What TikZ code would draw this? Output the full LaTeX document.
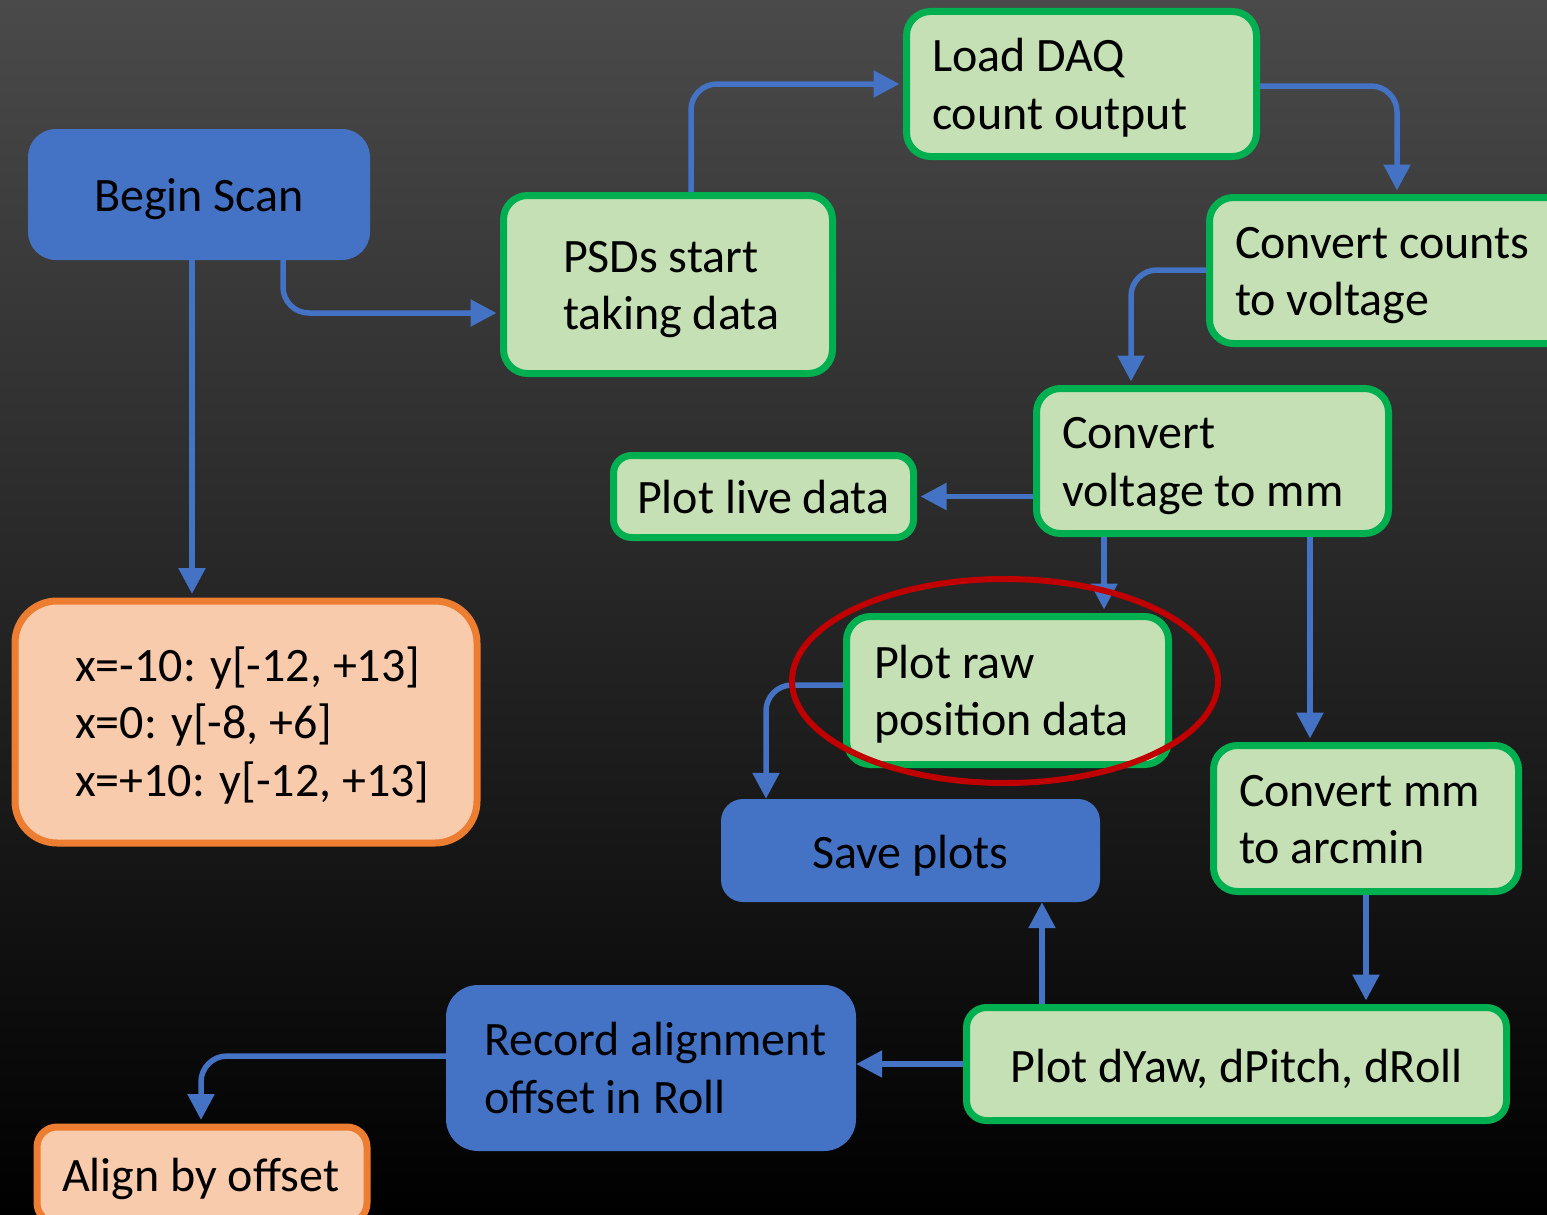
\documentclass[tikz,border=0pt]{standalone}
\usepackage{fontspec}
\setmainfont{Carlito}
\usetikzlibrary{arrows.meta,calc,shapes.geometric}
\definecolor{bgtop}{RGB}{74,74,74}
\definecolor{bgbot}{RGB}{0,0,0}
\definecolor{fblue}{RGB}{68,114,196}
\definecolor{fgreen}{RGB}{197,224,180}
\definecolor{lgreen}{RGB}{0,176,80}
\definecolor{forange}{RGB}{248,203,173}
\definecolor{lorange}{RGB}{237,125,49}
\definecolor{hred}{RGB}{192,0,0}
\newcommand{\lowr}[1]{\raisebox{-5pt}[\height][\depth]{#1}}
\newcommand{\lbox}[2]{\lowr{\makebox[#1][l]{\begin{tabular}{@{}l@{}}#2\end{tabular}}}}
\tikzset{
  txt/.style={font=\fontsize{48}{57.5}\selectfont, text=black, inner ysep=0pt},
  bluebox/.style={txt, rectangle, fill=fblue, draw=none, rounded corners=28pt},
  greenbox/.style={txt, rectangle, fill=fgreen, draw=lgreen, line width=7pt, rounded corners=24pt},
  orangebox/.style={txt, rectangle, fill=forange, draw=lorange, line width=7pt, rounded corners=30pt},
  arr/.style={draw=fblue, line width=5.5pt, rounded corners=26pt, -{Triangle[length=26pt,width=26pt]}},
}
\begin{document}
\begin{tikzpicture}[x=1pt,y=-1pt]
\shade[top color=bgtop, bottom color=bgbot] (0,0) rectangle (1547,1215);
\useasboundingbox (0,0) rectangle (1547,1215);

% nodes
\node[bluebox, minimum width=342pt, minimum height=131pt] (begin) at (199,194.5) {\lowr{Begin Scan}};
\node[greenbox, minimum height=178pt, inner xsep=59.5pt] (psd) at (668,284.5) {\lbox{210pt}{PSDs start\\taking data}};
\node[greenbox, minimum height=145pt, inner xsep=25.5pt] (load) at (1081.5,84) {\lbox{299pt}{Load DAQ\\count output}};
\node[greenbox, minimum height=146pt, inner xsep=25.5pt] (counts) at (1390.5,270.5) {\lbox{311pt}{Convert counts\\to voltage}};
\node[greenbox, minimum height=145pt, inner xsep=25.5pt] (volt) at (1212.5,461) {\lbox{301pt}{Convert\\voltage to mm}};
\node[greenbox, minimum height=82pt, inner xsep=23.5pt, rounded corners=18pt] (live) at (763.5,496.5) {\lbox{253pt}{Plot live data}};
\node[greenbox, minimum height=148pt, inner xsep=27.5pt] (raw) at (1007.5,690.5) {\lbox{267pt}{Plot raw\\position data}};
\node[bluebox, minimum width=379pt, minimum height=103pt, rounded corners=22pt] (save) at (910.5,850.5) {\lowr{Save plots}};
\node[greenbox, minimum height=146pt, inner xsep=25.5pt] (arcmin) at (1366,818.5) {\lbox{254pt}{Convert mm\\to arcmin}};
\node[greenbox, minimum width=540pt, minimum height=113pt, rounded corners=20pt] (dyaw) at (1236.5,1064) {\lowr{Plot dYaw, dPitch, dRoll}};
\node[bluebox, minimum height=166pt, inner xsep=38pt, rounded corners=32pt] (record) at (651,1068) {\lbox{334pt}{Record alignment\\offset in Roll}};
\node[orangebox, minimum height=96pt, inner xsep=25pt, rounded corners=20pt] (align) at (202,1175) {\lbox{280pt}{Align by offset}};
\node[orangebox, minimum height=242pt, inner xsep=60pt, rounded corners=42pt] (xbox) at (246,722) {\lbox{342pt}{x=-10: y[-12, +13]\\x=0: y[-8, +6]\\x=+10: y[-12, +13]}};

% connectors
\draw[arr] ($(begin.south)+(-7,0)$) -- ($(xbox.north)+(-54,-3.5)$);
\draw[arr] ($(begin.south)+(84,-6)$) |- ($(psd.west)+(-3.5,28.5)$);
\draw[arr] ($(psd.north)+(23,0)$) |- ($(load.west)+(-3.5,0)$);
\draw[arr] ($(load.east)+(0,2)$) -| ($(counts.north)+(6.5,-3.5)$);
\draw[arr] ($(counts.west)+(0,-0.5)$) -| ($(volt.north)+(-81.5,-3.5)$);
\draw[arr] ($(volt.west)+(0,35.5)$) -- ($(live.east)+(3.5,0)$);
\draw[arr] ($(volt.south)+(-108.5,0)$) -- ($(raw.north)+(96.5,-3.5)$);
\draw[arr] ($(volt.south)+(97.5,0)$) -- ($(arcmin.north)+(-56,-3.5)$);
\draw[arr] ($(raw.west)+(0,-5.5)$) -| ($(save.north)+(-144.5,0)$);
\draw[arr] (arcmin.south) -- ($(dyaw.north)+(129.5,-3.5)$);
\draw[arr] ($(dyaw.north)+(-194.5,0)$) -- ($(save.south)+(131.5,0)$);
\draw[arr] (dyaw.west) -- ($(record.east)+(0,-4)$);
\draw[arr] ($(record.west)+(0,-12)$) -| ($(align.north)+(-1,-3.5)$);

% highlight
\node[ellipse, draw=hred, line width=6pt, minimum width=426pt, minimum height=204pt, inner sep=0pt] (hl) at (1005,681) {};
\end{tikzpicture}
\end{document}
